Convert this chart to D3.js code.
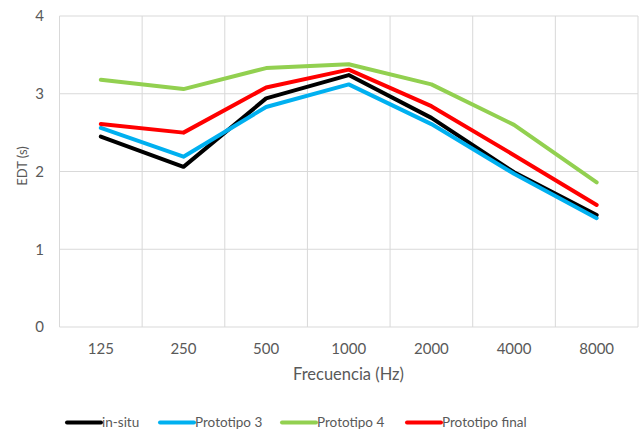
<!DOCTYPE html>
<html><head><meta charset="utf-8">
<script src="https://cdn.jsdelivr.net/npm/d3@7"></script>
<style>body{margin:0;background:#fff}svg{display:block}text{font-family:Lato,"Open Sans",sans-serif;fill:#595959}</style>
</head><body><svg id="c" width="639" height="433"></svg>
<script>
const categories = ["125","250","500","1000","2000","4000","8000"];
const seriesNames = ["in-situ","Prototipo 3","Prototipo 4","Prototipo final"];
const inSitu = [2.45,2.06,2.94,3.24,2.69,1.99,1.44];
const prototipo3 = [2.56,2.19,2.83,3.12,2.61,1.97,1.40];
const prototipo4 = [3.18,3.06,3.33,3.38,3.12,2.60,1.86];
const prototipoFinal = [2.61,2.50,3.08,3.31,2.84,2.21,1.57];
const yTicks = [0,1,2,3,4];
const colors = ["#000000","#00B0F0","#92D050","#FF0000"];
const series = [inSitu, prototipo3, prototipo4, prototipoFinal];
const FONT = 'Lato,"Open Sans",sans-serif';

const svg = d3.select("#c");
const x = d3.scaleBand().domain(categories).range([59.5, 638]);
const y = d3.scaleLinear().domain([0,4]).range([327, 16]);

// grid
svg.append("g").selectAll("line").data(yTicks).join("line")
  .attr("x1",59.5).attr("x2",638).attr("y1",d=>y(d)).attr("y2",d=>y(d))
  .attr("stroke","#D9D9D9").attr("stroke-width",1);
const vb = categories.map(c=>x(c)).concat([x.range()[1]]);
svg.append("g").selectAll("line").data(vb).join("line")
  .attr("x1",d=>d).attr("x2",d=>d).attr("y1",16).attr("y2",327)
  .attr("stroke","#D9D9D9").attr("stroke-width",1);

// y axis labels
const yAxis = d3.axisLeft(y).tickValues(yTicks).tickSize(0).tickPadding(0).tickFormat(d3.format("d"));
const ga = svg.append("g").attr("transform","translate(44,0)").call(yAxis);
ga.select(".domain").remove();
ga.selectAll("text").attr("font-size",15).style("font-family",FONT).attr("fill","#595959");

// x axis labels
const xAxis = d3.axisBottom(x).tickSize(0).tickPadding(0);
const gx = svg.append("g").attr("transform","translate(0,343.4)").call(xAxis);
gx.select(".domain").remove();
gx.selectAll("text").attr("font-size",15).style("font-family",FONT).attr("fill","#595959");

// titles
svg.append("text").attr("x",348.5).attr("y",380).attr("text-anchor","middle").attr("font-size",16.5).text("Frecuencia (Hz)");
svg.append("text").attr("transform","translate(26.5,166) rotate(-90)").attr("text-anchor","middle").attr("font-size",13).text("EDT (s)");

// lines
const line = d3.line().x((d,i)=>x(categories[i])+x.bandwidth()/2).y(d=>y(d));
series.forEach((s,k)=>{
  svg.append("path").attr("d",line(s)).attr("fill","none").attr("stroke",colors[k])
    .attr("stroke-width",4).attr("stroke-linejoin","round").attr("stroke-linecap","round");
});

// legend
const legX = [67,160,282,407];
seriesNames.forEach((n,k)=>{
  svg.append("line").attr("x1",legX[k]).attr("x2",legX[k]+34).attr("y1",422.5).attr("y2",422.5)
    .attr("stroke",colors[k]).attr("stroke-width",4).attr("stroke-linecap","round");
  svg.append("text").attr("x",legX[k]+35).attr("y",427).attr("font-size",13.5).text(n);
});
</script></body></html>
